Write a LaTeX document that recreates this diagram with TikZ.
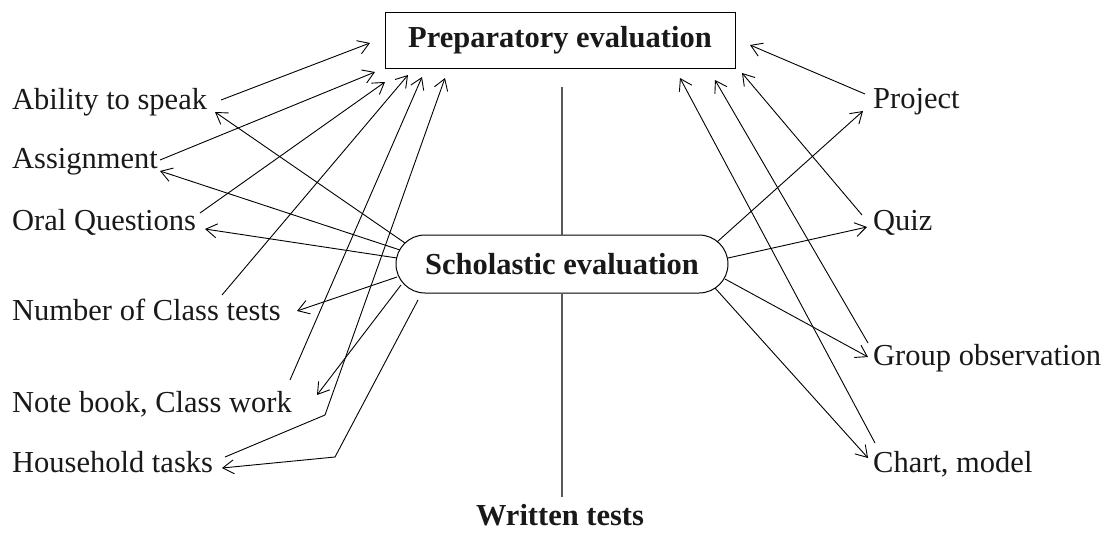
\documentclass[tikz,border=0pt]{standalone}
\usepackage{fontspec}
\setmainfont{Liberation Serif}
\usetikzlibrary{arrows.meta}
\begin{document}
\begin{tikzpicture}[x=1pt,y=-1pt,
  lbl/.style={inner sep=0pt, font=\fontsize{30.5}{36}\selectfont, anchor=base west, text=black!90},
  hd/.style={font=\fontsize{30.5}{36}\selectfont\bfseries, text=black!90},
  arr/.style={draw, line width=0.9pt, -{Straight Barb[length=11pt,width=14pt,line width=0.9pt]}},
  ln/.style={draw, line width=0.9pt},
  vline/.style={draw, line width=1.3pt, black!65}]
\useasboundingbox (0,0) rectangle (1106,533);

% main boxes
\node[draw, line width=1pt, minimum width=350pt, minimum height=56pt, hd] (prep) at (560,40) {Preparatory evaluation};
\node[draw, line width=1pt, rounded corners=29pt, minimum width=332pt, minimum height=58pt, hd] (schol) at (562,264) {Scholastic evaluation};
\node[hd, inner sep=0pt, anchor=base] (wt) at (560,525) {Written tests};

% labels left
\node[lbl] (abil) at (12,109) {Ability to speak};
\node[lbl] (assg) at (12,168) {Assignment};
\node[lbl] (oral) at (12,230) {Oral Questions};
\node[lbl] (numb) at (12,320) {Number of Class tests};
\node[lbl] (note) at (12,412) {Note book, Class work};
\node[lbl] (hous) at (12,472) {Household tasks};
% labels right
\node[lbl] (proj) at (873,108) {Project};
\node[lbl] (quiz) at (873,230) {Quiz};
\node[lbl] (grp) at (873,365) {Group observation};
\node[lbl] (chrt) at (873,472) {Chart, model};

% vertical line
\coordinate (vtop) at (562,87);
\coordinate (vbot) at (562,497);
\draw[vline] (vtop) -- (schol.north);
\draw[vline] (schol.south) -- (vbot);

% endpoints: left labels -> preparatory
\coordinate (a1) at (221,100); \coordinate (t1) at (370,43);
\coordinate (a2) at (160,160); \coordinate (t2) at (375,72);
\coordinate (a3) at (200,213); \coordinate (t3) at (385,82);
\coordinate (a4) at (222,295); \coordinate (t4) at (408,75);
\coordinate (a5) at (290,380); \coordinate (t5) at (422,77);
\coordinate (a6) at (225,457); \coordinate (k6) at (325,415); \coordinate (t6) at (445,78);
\draw[arr] (a1) -- (t1);
\draw[arr] (a2) -- (t2);
\draw[arr] (a3) -- (t3);
\draw[arr] (a4) -- (t4);
\draw[arr] (a5) -- (t5);
\draw[arr] (a6) -- (k6) -- (t6);

% scholastic -> left labels
\coordinate (s1) at (405,243); \coordinate (e1) at (215,112);
\coordinate (s2) at (400,250); \coordinate (e2) at (160,171);
\coordinate (s3) at (397,258); \coordinate (e3) at (205,229);
\coordinate (s4) at (397,277); \coordinate (e4) at (297,311);
\coordinate (s5) at (401,285); \coordinate (e5) at (317,395);
\coordinate (s6) at (418,300); \coordinate (k7) at (335,457); \coordinate (e6) at (222,468);
\draw[arr] (s1) -- (e1);
\draw[arr] (s2) -- (e2);
\draw[arr] (s3) -- (e3);
\draw[arr] (s4) -- (e4);
\draw[arr] (s5) -- (e5);
\draw[arr] (s6) -- (k7) -- (e6);

% right labels -> preparatory
\coordinate (b1) at (865,94); \coordinate (r1) at (750,45);
\coordinate (b2) at (862,215); \coordinate (r2) at (742,73);
\coordinate (b3) at (868,343); \coordinate (r3) at (715,80);
\coordinate (b4) at (875,443); \coordinate (r4) at (680,78);
\draw[arr] (b1) -- (r1);
\draw[arr] (b2) -- (r2);
\draw[arr] (b3) -- (r3);
\draw[arr] (b4) -- (r4);

% scholastic -> right labels
\coordinate (u1) at (717,242); \coordinate (f1) at (863,111);
\coordinate (u2) at (728,258); \coordinate (f2) at (867,227);
\coordinate (u3) at (725,279); \coordinate (f3) at (868,357);
\coordinate (u4) at (715,288); \coordinate (f4) at (868,458);
\draw[arr] (u1) -- (f1);
\draw[arr] (u2) -- (f2);
\draw[arr] (u3) -- (f3);
\draw[arr] (u4) -- (f4);
\end{tikzpicture}
\end{document}
